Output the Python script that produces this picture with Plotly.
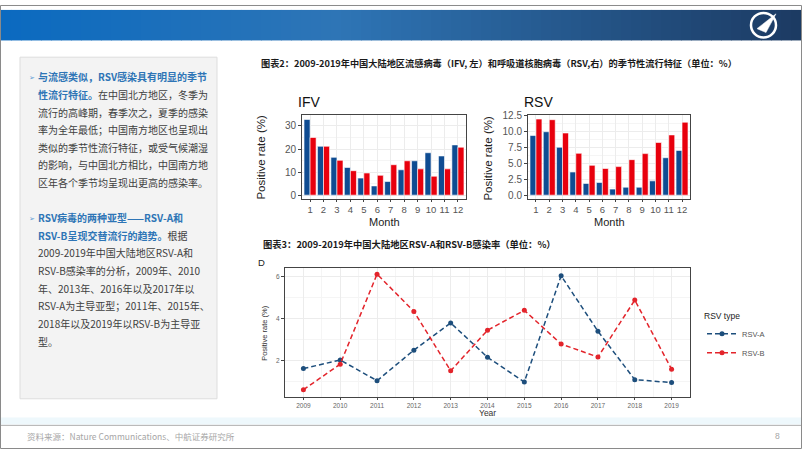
import plotly.graph_objects as go

W, H = 802, 451
def px(x): return x / W
def py(y): return 1 - y / H

# ---------------- data ----------------
months = list(range(1, 13))
month_labels = [str(m) for m in months]
ifv_north = [32.8, 21.2, 16.4, 12.0, 7.4, 4.0, 5.9, 11.0, 14.9, 18.4, 17.0, 21.8]
ifv_south = [25.0, 21.2, 15.1, 10.6, 9.6, 8.6, 13.2, 14.9, 11.4, 8.2, 11.4, 20.8]
rsv_north = [9.4, 10.0, 7.55, 3.65, 1.85, 2.0, 0.95, 1.25, 1.25, 2.25, 5.9, 7.05]
rsv_south = [12.0, 11.9, 9.8, 6.6, 4.7, 4.2, 4.5, 5.6, 6.55, 8.3, 9.5, 11.5]

years = list(range(2009, 2020))
rsv_a = [1.62, 2.03, 1.04, 2.50, 3.80, 2.16, 0.98, 6.05, 3.40, 1.09, 0.95]
rsv_b = [0.61, 1.83, 6.13, 4.35, 1.51, 3.45, 4.40, 2.79, 2.17, 4.89, 1.59]

ifv_yticks = [0, 10, 20, 30]
rsv_yticks = [0, 2.5, 5, 7.5, 10, 12.5]
line_yticks = [2, 4, 6]

BLUE = "#0f4c92"
RED = "#e8000d"
LBLUE = "#1d4e7c"
LRED = "#e3242b"

fig = go.Figure()

fig.add_trace(go.Bar(x=months, y=ifv_north, marker=dict(color=BLUE, line=dict(color="white", width=0.6)),
                     xaxis="x", yaxis="y", showlegend=False))
fig.add_trace(go.Bar(x=months, y=ifv_south, marker=dict(color=RED, line=dict(color="white", width=0.6)),
                     xaxis="x", yaxis="y", showlegend=False))
fig.add_trace(go.Bar(x=months, y=rsv_north, marker=dict(color=BLUE, line=dict(color="white", width=0.6)),
                     xaxis="x2", yaxis="y2", showlegend=False))
fig.add_trace(go.Bar(x=months, y=rsv_south, marker=dict(color=RED, line=dict(color="white", width=0.6)),
                     xaxis="x2", yaxis="y2", showlegend=False))

fig.add_trace(go.Scatter(x=years, y=rsv_a, mode="lines+markers", name="RSV-A",
                         line=dict(color=LBLUE, width=1.5, dash="5px,3px"),
                         marker=dict(color=LBLUE, size=5), xaxis="x3", yaxis="y3"))
fig.add_trace(go.Scatter(x=years, y=rsv_b, mode="lines+markers", name="RSV-B",
                         line=dict(color=LRED, width=1.5, dash="5px,3px"),
                         marker=dict(color=LRED, size=5), xaxis="x3", yaxis="y3"))

FONT = "Liberation Sans, Arial, sans-serif"
CJK = "Noto Sans CJK SC, sans-serif"

common_x = dict(showline=True, mirror=True, linecolor="#444", linewidth=1, ticks="outside",
                ticklen=2, tickcolor="#444", showgrid=True, gridcolor="#ececec", zeroline=False,
                tickfont=dict(family=FONT, size=9.5, color="#555"))
common_y = dict(showline=True, mirror=True, linecolor="#444", linewidth=1, ticks="outside",
                ticklen=3, tickcolor="#444", showgrid=True, gridcolor="#ececec", zeroline=False,
                tickfont=dict(family=FONT, size=10, color="#555"))

fig.update_layout(
    width=W, height=H, margin=dict(l=0, r=0, t=0, b=0),
    paper_bgcolor="white", plot_bgcolor="white",
    barmode="group", bargap=0.1, bargroupgap=0,
    xaxis=dict(domain=[px(302), px(466)], anchor="y", range=[0.4, 12.6], tickvals=months,
               ticktext=month_labels, **common_x),
    yaxis=dict(domain=[py(197), py(112)], anchor="x", range=[-1.65, 34.65], tickvals=ifv_yticks,
               minor=dict(dtick=5, showgrid=True, gridcolor="#f5f5f5"), **common_y),
    xaxis2=dict(domain=[px(528), px(690)], anchor="y2", range=[0.4, 12.6], tickvals=months,
                ticktext=month_labels, **common_x),
    yaxis2=dict(domain=[py(197), py(112)], anchor="x2", range=[-0.6, 12.6], tickvals=rsv_yticks,
                tickformat=".1f", minor=dict(dtick=1.25, showgrid=True, gridcolor="#f5f5f5"), **common_y),
    xaxis3=dict(domain=[px(285), px(690)], anchor="y3", range=[2008.5, 2019.5], tickvals=years,
                minor=dict(dtick=0.5, tick0=2008.5, showgrid=True, gridcolor="#f5f5f5"),
                **{**common_x, "tickfont": dict(family=FONT, size=6.5, color="#666")}),
    yaxis3=dict(domain=[py(398), py(267)], anchor="x3", range=[0.27, 6.43], tickvals=line_yticks,
                minor=dict(dtick=1, showgrid=True, gridcolor="#f5f5f5"),
                **{**common_y, "tickfont": dict(family=FONT, size=6.5, color="#666")}),
    legend=dict(x=px(702), y=py(308), xanchor="left", yanchor="top", bgcolor="rgba(0,0,0,0)",
                title=dict(text="RSV type", font=dict(family=FONT, size=8.5, color="#222")),
                font=dict(family=FONT, size=7.5, color="#555"), itemwidth=30, tracegroupgap=2),
    font=dict(family=FONT),
)

shapes = []
# slide border
shapes.append(dict(type="rect", xref="paper", yref="paper", x0=px(0.5), x1=px(801.5), y0=py(450.5), y1=py(0.5),
                   line=dict(color="#8a8a8a", width=1), fillcolor="rgba(0,0,0,0)", layer="below"))
# header gradient strips
stops = [(0.0, (10, 106, 192)), (0.42, (46, 117, 182)), (1.0, (28, 58, 98))]
def col_at(t):
    for (t0, c0), (t1, c1) in zip(stops[:-1], stops[1:]):
        if t0 <= t <= t1:
            f = (t - t0) / (t1 - t0)
            return "rgb(%d,%d,%d)" % tuple(round(a + (b - a) * f) for a, b in zip(c0, c1))
    return "rgb(%d,%d,%d)" % stops[-1][1]
N = 80
for i in range(N):
    x0 = 1 + i * 800 / N
    x1 = 1 + (i + 1) * 800 / N + 0.6
    shapes.append(dict(type="rect", xref="paper", yref="paper", x0=px(x0), x1=px(min(x1, 801)), y0=py(36), y1=py(5),
                       line=dict(width=0), fillcolor=col_at((i + 0.5) / N), layer="below"))
# logo
shapes.append(dict(type="circle", xref="paper", yref="paper", x0=px(751), x1=px(776), y0=py(33), y1=py(8),
                   line=dict(color="white", width=2.5), fillcolor="rgba(0,0,0,0)"))
shapes.append(dict(type="path", xref="paper", yref="paper",
                   path="M %f,%f L %f,%f L %f,%f Z" % (px(757), py(24), px(776), py(9), px(766), py(28)),
                   line=dict(color="white", width=0.5), fillcolor="white"))
# left panel
shapes.append(dict(type="rect", xref="paper", yref="paper", x0=px(20), x1=px(217), y0=py(400), y1=py(53),
                   line=dict(color="#dddddd", width=1), fillcolor="#f3f3f3", layer="below"))
# footer band + line
shapes.append(dict(type="rect", xref="paper", yref="paper", x0=px(1), x1=px(801), y0=py(426), y1=py(419),
                   line=dict(width=0), fillcolor="#eef8fc", layer="below"))
shapes.append(dict(type="line", xref="paper", yref="paper", x0=px(1), x1=px(801), y0=py(427), y1=py(427),
                   line=dict(color="#b0b0b0", width=1)))
fig.update_layout(shapes=shapes)

ann = []
def text(x, y, s, size, color="#333", family=CJK, xanchor="left", angle=0, yanchor="middle"):
    ann.append(dict(x=px(x), y=py(y), xref="paper", yref="paper", text=s, showarrow=False,
                    xanchor=xanchor, yanchor=yanchor, textangle=angle,
                    font=dict(size=size, color=color, family=family)))

HB = "#2e75b6"
TXT = "#404040"
def hl(s): return "<b><span style='color:%s'>%s</span></b>" % (HB, s)

lines1 = [
    hl("与流感类似，RSV感染具有明显的季节"),
    hl("性流行特征。") + "在中国北方地区，冬季为",
    "流行的高峰期，春季次之，夏季的感染",
    "率为全年最低；中国南方地区也呈现出",
    "类似的季节性流行特征，或受气候潮湿",
    "的影响，与中国北方相比，中国南方地",
    "区年各个季节均呈现出更高的感染率。",
]
lines2 = [
    hl("RSV病毒的两种亚型——RSV-A和"),
    hl("RSV-B呈现交替流行的趋势。") + "根据",
    "2009-2019年中国大陆地区RSV-A和",
    "RSV-B感染率的分析，2009年、2010",
    "年、2013年、2016年以及2017年以",
    "RSV-A为主导亚型；2011年、2015年、",
    "2018年以及2019年以RSV-B为主导亚",
    "型。",
]
y = 73
for s in lines1:
    text(36, y, s, 10, TXT)
    y += 17.9
y = 216
for s in lines2:
    text(36, y, s, 10, TXT)
    y += 17.9
text(27, 73, "➢", 7, "#5b9bd5")
text(27, 216, "➢", 7, "#5b9bd5")

# chart titles
text(259, 59, "<b>图表2：2009-2019年中国大陆地区流感病毒（IFV, 左）和呼吸道核胞病毒（RSV,右）的季节性流行特征（单位：%）</b>",
     9.2, "#1a1a1a")
text(261, 243, "<b>图表3：2009-2019年中国大陆地区RSV-A和RSV-B感染率（单位：%）</b>", 9.3, "#1a1a1a")

# subplot labels
text(296, 99, "IFV", 14, "#111", FONT)
text(522, 99, "RSV", 14, "#111", FONT)
text(261, 155, "Positive rate (%)", 11.5, "#222", FONT, xanchor="center", angle=-90)
text(488, 155, "Positive rate (%)", 11.5, "#222", FONT, xanchor="center", angle=-90)
text(384, 220, "Month", 11, "#222", FONT, xanchor="center")
text(609, 220, "Month", 11, "#222", FONT, xanchor="center")

text(256, 262, "D", 9.5, "#222", FONT)
text(265, 333, "Positive rate (%)", 7.5, "#333", FONT, xanchor="center", angle=-90)
text(488, 414, "Year", 8.5, "#333", FONT, xanchor="center")

# footer
text(25, 438, "资料来源：Nature Communications、中航证券研究所", 8.5, "#a6a6a6")
text(777, 438, "8", 8.5, "#a6a6a6", FONT, xanchor="center")

fig.update_layout(annotations=ann)
fig.write_html("out.html")
